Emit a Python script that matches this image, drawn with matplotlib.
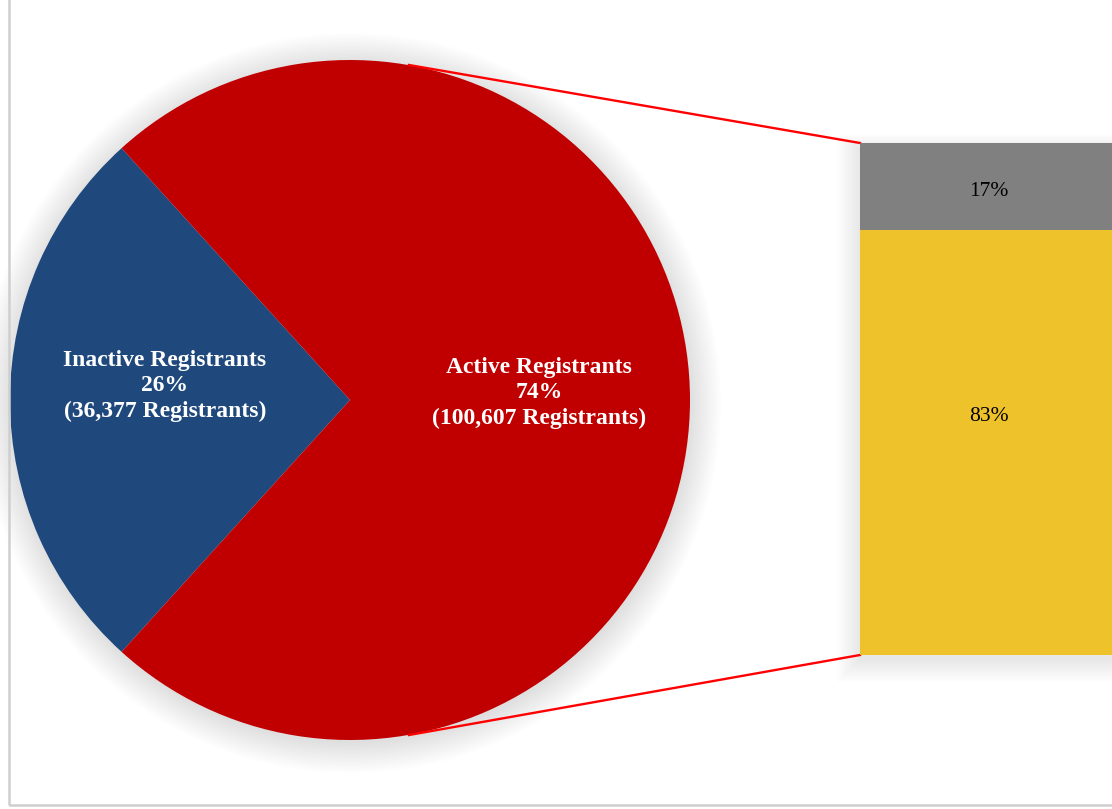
import matplotlib
matplotlib.use("Agg")
import matplotlib.pyplot as plt
from matplotlib.patches import Circle, Rectangle

# Pie data (registrants)
pie_labels = ['Inactive Registrants', 'Active Registrants']
pie_counts = [36377, 100607]
pie_pcts = [26, 74]
pie_colors = ['#1F497D', '#C00000']

# Breakdown bar (share of one slice, %)
bar_labels = ['83%', '17%']
bar_values = [83, 17]
bar_colors = ['#EDC22B', '#808080']

W, H = 1112, 809
fig = plt.figure(figsize=(W / 100, H / 100), dpi=100)
ax = fig.add_axes([0, 0, 1, 1])

# chart area frame (left and bottom edge visible)
fig.patches.append(Rectangle((9 / W, 4 / H), 1.2, 1.2, transform=fig.transFigure,
                             facecolor='none', edgecolor='#cfcfcf', lw=1.8, zorder=0))

cx, cy, r = 350, H - 400, 340

# soft shadow behind pie
for i in range(16):
    ax.add_patch(Circle((cx + 1, cy - 3), r + i * 2.0, color='black', alpha=0.0075,
                        lw=0, zorder=1))

total = sum(pie_counts)
start = 180 - 180 * pie_counts[0] / total


def fmt(pct):
    idx = 0 if pct < 50 else 1
    return '%s\n%d%%\n(%s Registrants)' % (pie_labels[idx], pie_pcts[idx], format(pie_counts[idx], ','))


wedges, texts, autotexts = ax.pie(pie_counts, colors=pie_colors, startangle=start,
                                  center=(cx, cy), radius=r, autopct=fmt, pctdistance=0.55,
                                  wedgeprops=dict(linewidth=0, zorder=2), frame=True)
for t, dy in zip(autotexts, [14, 7]):
    t.set_color('white')
    t.set_fontfamily('Liberation Serif')
    t.set_fontweight('bold')
    t.set_fontsize(17)
    t.set_linespacing(1.3)
    t.set_zorder(5)
    x, y = t.get_position()
    t.set_position((x + 2, y + dy))
ax.set_xlim(0, W)
ax.set_ylim(0, H)
ax.axis('off')

# bar-of-pie geometry
bx0, by0, by1 = 860, H - 655, H - 143

# shadow behind bar
for i in range(12):
    ax.add_patch(Rectangle((bx0 - 1 - i * 2, by0 - 5 - i * 2), 400, (by1 - by0) + i * 3.2,
                           color='black', alpha=0.008, lw=0, zorder=1))

# connector lines
ax.plot([409, bx0], [H - 65, by1], color='#FF0000', lw=1.7, zorder=3)
ax.plot([409, bx0], [H - 735, by0], color='#FF0000', lw=1.7, zorder=3)

bax = fig.add_axes([bx0 / W, by0 / H, 1 - bx0 / W, (by1 - by0) / H])
bax.set_xlim(0, (W - bx0) / 258)
bax.set_ylim(0, sum(bar_values))
bax.axis('off')
bottom = 0
for val, col, lab in zip(bar_values, bar_colors, bar_labels):
    bax.bar(0, val, bottom=bottom, width=1, align='edge', color=col, lw=0)
    ypos = bottom + val / 2 + (5 if val > 50 else -1)
    bax.text(0.5, ypos, lab, ha='center', va='center', fontsize=15.5,
             fontfamily='Liberation Serif', color='black')
    bottom += val

fig.savefig('out.png', dpi=100)
